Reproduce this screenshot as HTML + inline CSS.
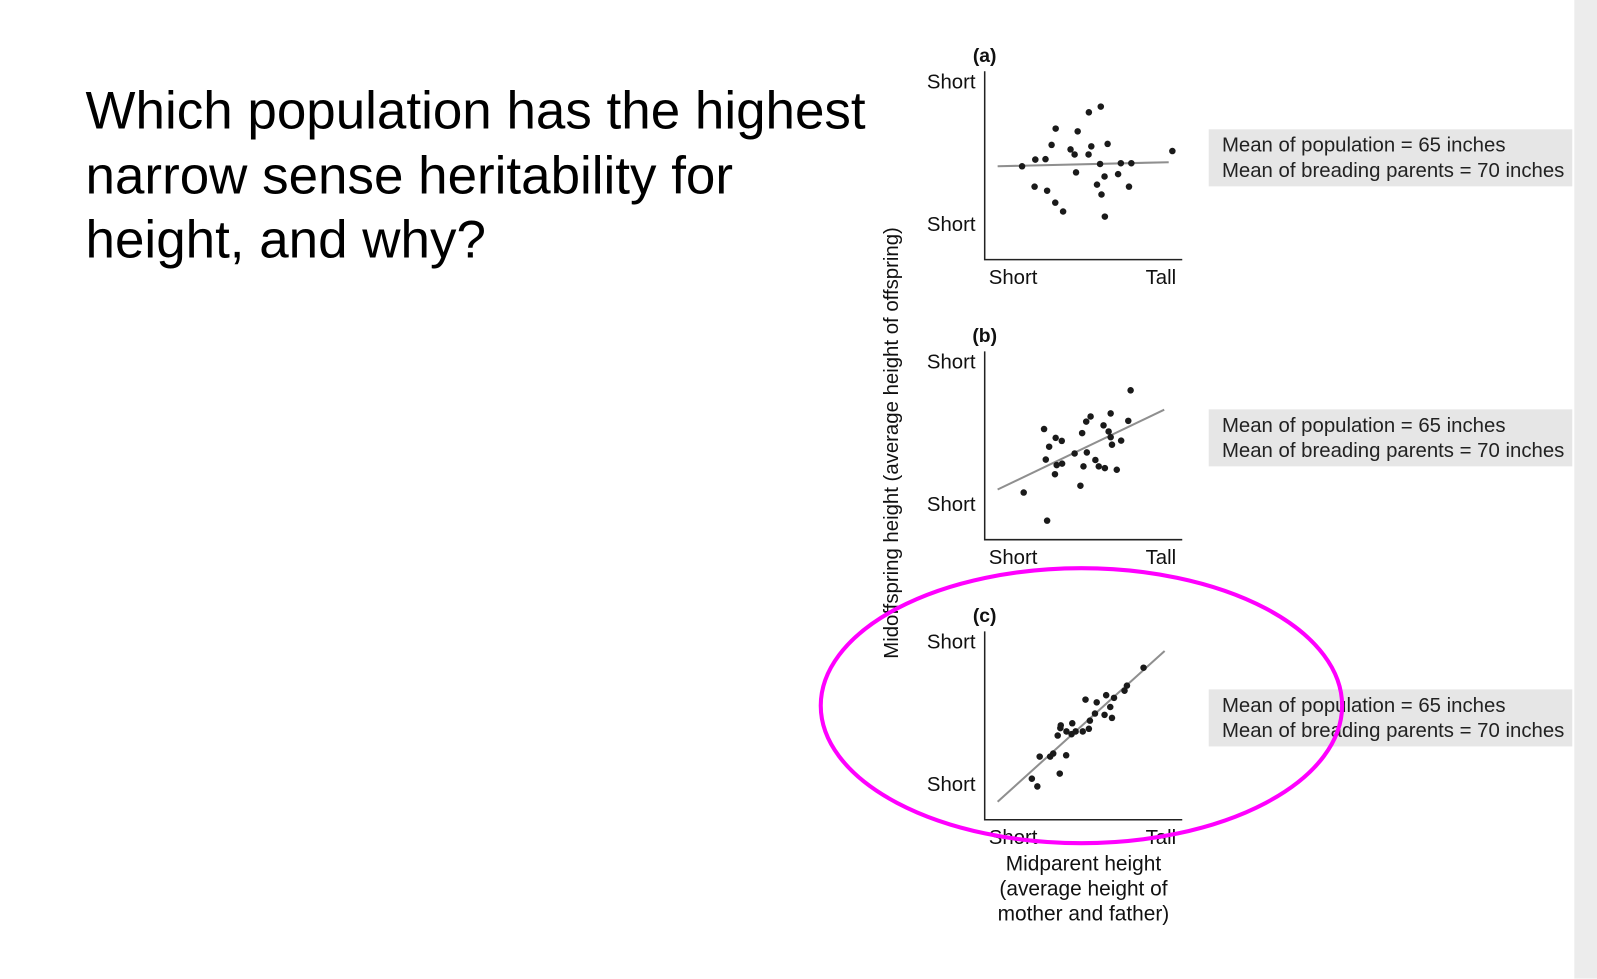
<!DOCTYPE html>
<html><head><meta charset="utf-8"><style>
html,body{margin:0;padding:0;background:#fff;}
body{width:1597px;height:961px;position:relative;overflow:hidden;font-family:"Liberation Sans",sans-serif;}
#wrap{position:absolute;left:0;top:0;width:1597px;height:961px;transform:scale(1.0183);transform-origin:0 0;}
#q{position:absolute;left:84px;top:78px;font-size:52px;line-height:63.5px;color:#000;margin:0;font-weight:normal;}
#strip{position:absolute;left:1546px;top:0;width:100px;height:961px;background:#ececec;}
svg{position:absolute;left:0;top:0;}
</style></head><body>
<div id="wrap">
<h1 id="q">Which population has the highest<br>narrow sense heritability for<br>height, and why?</h1>
<div id="strip"></div>
<svg id="fig" width="1597" height="961" font-family="'Liberation Sans', sans-serif"></svg>
</div>
<script>
const panelLabels = ["(a)", "(b)", "(c)"];
const aX = [36.7,49.7,59.7,65.7,69.7,49,61.3,69.3,77,84.3,88.3,91.3,89.7,102.3,114,104.7,102,120.7,113.3,117.7,110.3,114.7,118,131,133.7,144,141.7,184.3];
const aY = [91.7,98.3,98.7,112.7,128.7,71.7,67.7,56,47.3,108.3,103.3,126,85.7,144.7,150.3,111.3,103.3,113.7,94,81.7,73.7,64,42.3,84,94.7,94.7,71.7,106.7];
const aLine = [12.7,91.7,180.7,95.7];
const bX = [38.3,61.3,58.3,69.7,75.7,63.3,60,70.7,76,69,88.3,95.7,100.3,97,94,99.7,104,108.7,112,118,116.7,121.7,123.7,123.7,125,129.7,134,141,143.3];
const bY = [46.3,18.7,108.7,100,97,91.3,78.7,73.3,74.7,64.3,84.7,104.7,85.7,72,53,116,121,78.3,72,70.3,112.3,106.3,124,100.7,93.3,68.7,97.3,116.7,146.7];
const bLine = [12.7,49.3,176.3,127.7];
const cX = [46.3,51.7,54,73.7,64.3,67.3,80,71.7,74.3,74.7,80.3,85.3,86,89.3,96.3,102.3,103.3,99,108.3,110,117.7,119.3,123.3,125,127,137.3,139.7,156];
const cY = [40.3,32.7,62,45.3,62,65,63.3,82.7,90,92.7,86.7,84,94.7,86.7,86.7,89.3,97.3,118,104.3,115.3,103,122.3,110.7,100,119.7,126.7,131.7,149.3];
const cLine = [12.7,17.7,176.7,165.7];
const meanLines = ["Mean of population = 65 inches","Mean of breading parents = 70 inches"];

const svg = document.getElementById('fig');
const NS = 'http://www.w3.org/2000/svg';
function mk(tag, attrs, parent){const e=document.createElementNS(NS,tag);for(const k in attrs)e.setAttribute(k,attrs[k]);(parent||svg).appendChild(e);return e;}
function txt(s, attrs){const e=mk('text',attrs);e.textContent=s;return e;}

const panels=[{X:aX,Y:aY,L:aLine,top:70},{X:bX,Y:bY,L:bLine,top:345},{X:cX,Y:cY,L:cLine,top:620}];
panels.forEach((p,i)=>{
  const ox=967, oy=p.top+185;
  const sx=v=>ox+v, sy=v=>oy-v;
  const g=mk('g',{});
  
  
  const ax=mk('path',{d:`M${ox} ${p.top} V${oy} H1161`,stroke:'#222',fill:'none','stroke-width':1.5},g);
  
  
  const ln=mk('line',{x1:sx(p.L[0]),y1:sy(p.L[1]),x2:sx(p.L[2]),y2:sy(p.L[3]),stroke:'#8f8f8f','stroke-width':2},g);
  
  
  p.X.forEach((x,j)=>{
    const c=mk('circle',{cx:sx(x),cy:sy(p.Y[j]),r:3.2,fill:'#1a1a1a'},g);
    
    
  });
  const t1=txt(panelLabels[i],{x:967,y:p.top-9,'font-size':19,'font-weight':'bold','text-anchor':'middle',fill:'#111'});
  
  
  const t2=txt('Short',{x:958,y:p.top+17,'font-size':20,'text-anchor':'end',fill:'#111'});
  
  
  const t3=txt('Short',{x:958,y:p.top+157,'font-size':20,'text-anchor':'end',fill:'#111'});
  
  
  const t4=txt('Short',{x:971,y:oy+24,'font-size':20,fill:'#111'});
  
  
  const t5=txt('Tall',{x:1155,y:oy+24,'font-size':20,'text-anchor':'end',fill:'#111'});
  
  
  const by=p.top+57;
  const box=mk('rect',{x:1187,y:by,width:357,height:56,fill:'#e6e6e6'});
  
  
  meanLines.forEach((s,k)=>{
    const t=txt(s,{x:1200,y:by+22+k*25,'font-size':20,fill:'#222'});
    
    
  });
});
const yt=txt('Midoffspring height (average height of offspring)',{x:0,y:0,'font-size':20,'text-anchor':'middle',fill:'#111',transform:'translate(882,435) rotate(-90)'});


['Midparent height','(average height of','mother and father)'].forEach((s,k)=>{
  const t=txt(s,{x:1064,y:855+k*24.5,'font-size':20.5,'text-anchor':'middle',fill:'#111'});
  
  
});
const el=mk('ellipse',{cx:1062,cy:693,rx:256,ry:135,fill:'none',stroke:'#ff00ff','stroke-width':4});


</script>
</body></html>
